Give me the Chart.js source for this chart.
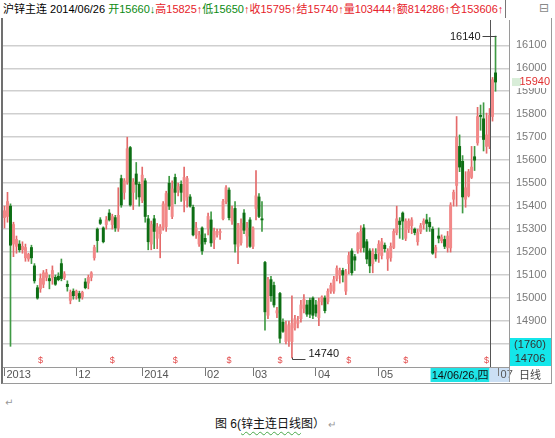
<!DOCTYPE html>
<html lang="zh-CN">
<head>
<meta charset="UTF-8">
<title>沪锌主连 日线</title>
<script src="https://cdn.jsdelivr.net/npm/chart.js"></script>
<style>
  body { margin: 0; background: #fff; width: 555px; height: 438px; overflow: hidden; position: relative;
         font-family: "Liberation Sans", "Noto Sans CJK SC", sans-serif; }
  #head { position: absolute; left: 3px; top: 2px; font-size: 11px; line-height: 14px; white-space: nowrap; color: #000; }
  #head .g { color: #0b8a12; }
  #head .r { color: #e6222a; }
  #headSep { position: absolute; left: 505px; top: 0; width: 1px; height: 18px; background: #777; }
  #headIcon { position: absolute; left: 539px; top: 1px; font-size: 12px; color: #888; font-family: "DejaVu Sans", sans-serif; }
  #frame { position: absolute; left: 1px; top: 18px; width: 551px; height: 366px; box-sizing: border-box;
           border-left: 2px solid #707070; border-right: 1px solid #9a9a9a; border-bottom: 1px solid #9a9a9a; }
  #wrap { position: absolute; left: 0; top: 18px; width: 552px; height: 366px; }
  .ret { position: absolute; font-size: 10px; color: #999; font-family: "DejaVu Sans", sans-serif; }
  #cap { position: absolute; left: 215px; top: 414px; font-size: 12px; color: #111; white-space: nowrap; }
  #cap .sp { text-decoration: underline wavy #4aa84a; text-decoration-thickness: 1px; text-underline-offset: 3px; }
</style>
</head>
<body>
<div id="head"><span>沪锌主连 2014/06/26 </span><span class="g">开15660↓</span><span class="r">高15825↑</span><span class="g">低15650</span><span class="r">↑收15795↑结15740↑量103444↑额814286↑仓153606↑</span></div>
<div id="headSep"></div>
<div id="headIcon">⊟</div>
<div id="frame"></div>
<div id="wrap"><canvas id="kline"></canvas></div>
<div class="ret" style="left:5px; top:397px;">↵</div>
<div id="cap">图 6(<span class="sp">锌主连日线</span>图）<span style="color:#999; font-size:10px;"> ↵</span></div>

<script>
  // trading days shown on the chart, by month
  const tradeDays = {
    '2013-10': [29, 30, 31],
    '2013-11': [1, 4, 5, 6, 7, 8, 11, 12, 13, 14, 15, 18, 19, 20, 21, 22, 25, 26, 27, 28, 29],
    '2013-12': [2, 3, 4, 5, 6, 9, 10, 11, 12, 13, 16, 17, 18, 19, 20, 23, 24, 25, 26, 27, 30, 31],
    '2014-01': [2, 3, 6, 7, 8, 9, 10, 13, 14, 15, 16, 17, 20, 21, 22, 23, 24, 27, 28, 29, 30],
    '2014-02': [7, 10, 11, 12, 13, 14, 17, 18, 19, 20, 21, 24, 25, 26, 27, 28],
    '2014-03': [3, 4, 5, 6, 7, 10, 11, 12, 13, 14, 17, 18, 19, 20, 21, 24, 25, 26, 27, 28, 31],
    '2014-04': [1, 2, 3, 4, 8, 9, 10, 11, 14, 15, 16, 17, 18, 21, 22, 23, 24, 25, 28, 29, 30],
    '2014-05': [5, 6, 7, 8, 9, 12, 13, 14, 15, 16, 19, 20, 21, 22, 23, 26, 27, 28, 29, 30],
    '2014-06': [3, 4, 5, 6, 9, 10, 11, 12, 13, 16, 17, 18, 19, 20, 23, 24, 25, 26, 27, 30]
  };
  const emptyDays = ['2014-07-01', '2014-07-02', '2014-07-03', '2014-07-04'];

  const opens = [
    15350, 15355, 15400, 15235, 15225, 15235, 15210, 15175, 15170, 15220,
    15140, 15045, 15040, 15060, 15090, 15085, 15090, 15090, 15095, 15150,
    15090, 15060, 14990, 15030, 15010, 15020, 15005, 15070, 15065, 15090,
    15175, 15300, 15340, 15305, 15320, 15370, 15320, 15350, 15305, 15520,
    15460, 15505, 15655, 15460, 15540, 15495, 15425, 15510, 15345, 15235,
    15345, 15260, 15280, 15305, 15310, 15500, 15355, 15525, 15470, 15495,
    15425, 15440, 15440, 15395, 15275, 15235, 15305, 15260, 15305, 15340,
    15255, 15275, 15285, 15345, 15420, 15470, 15335, 15390, 15225, 15240,
    15370, 15270, 15340, 15225, 15390, 15440, 15345, 15155, 14925, 15080,
    15055, 14935, 15020, 14895, 14810, 14815, 14810, 14870, 14890, 14910,
    14955, 14970, 14990, 15000, 14970, 14915, 14985, 15000, 14985, 15030,
    15030, 15085, 15100, 15120, 15030, 15150, 15205, 15180, 15205, 15215,
    15305, 15245, 15205, 15150, 15190, 15195, 15185, 15230, 15170, 15175,
    15220, 15285, 15335, 15370, 15260, 15300, 15315, 15300, 15245, 15290,
    15320, 15340, 15330, 15300, 15200, 15270, 15250, 15255, 15220, 15218,
    15430, 15490, 15660, 15595, 15430, 15445, 15525, 15615, 15675, 15795,
    15780, 15660, 15660, 15790, 15980
  ];
  const highs = [
    15400, 15460, 15410, 15330, 15270, 15250, 15245, 15235, 15195, 15230,
    15150, 15055, 15105, 15120, 15125, 15100, 15140, 15100, 15110, 15170,
    15115, 15075, 15035, 15040, 15035, 15030, 15030, 15085, 15100, 15115,
    15230, 15305, 15350, 15310, 15355, 15385, 15365, 15360, 15480, 15535,
    15520, 15700, 15660, 15520, 15590, 15505, 15570, 15520, 15360, 15335,
    15360, 15325, 15320, 15420, 15465, 15530, 15510, 15540, 15500, 15510,
    15570, 15530, 15450, 15405, 15330, 15290, 15310, 15280, 15370, 15375,
    15305, 15300, 15300, 15430, 15490, 15480, 15400, 15420, 15325, 15345,
    15385, 15330, 15350, 15310, 15555, 15455, 15420, 15160, 15090, 15095,
    15070, 14960, 15025, 14910, 14900, 14900, 15010, 14925, 14920, 14990,
    15015, 14990, 15000, 15005, 14990, 15000, 15010, 15010, 15040, 15065,
    15095, 15140, 15130, 15130, 15125, 15200, 15215, 15190, 15285, 15315,
    15320, 15255, 15215, 15215, 15215, 15250, 15260, 15240, 15215, 15240,
    15300, 15400, 15350, 15375, 15345, 15345, 15350, 15305, 15300, 15325,
    15345, 15365, 15350, 15310, 15230, 15305, 15275, 15270, 15290, 15415,
    15470, 15790, 15710, 15620, 15550, 15560, 15660, 15660, 15830, 15840,
    15850, 15805, 15825, 15960, 16140
  ];
  const lows = [
    15305, 15330, 14790, 15180, 15195, 15200, 15195, 15160, 15160, 15150,
    15065, 14995, 15025, 15045, 15075, 15040, 15060, 15055, 15075, 15075,
    15080, 15030, 14975, 14995, 14995, 14985, 14995, 15040, 15040, 15075,
    15165, 15200, 15320, 15240, 15300, 15335, 15300, 15290, 15290, 15395,
    15430, 15495, 15400, 15385, 15430, 15400, 15415, 15330, 15210, 15210,
    15215, 15215, 15175, 15295, 15290, 15385, 15345, 15410, 15445, 15420,
    15375, 15395, 15395, 15270, 15260, 15225, 15190, 15235, 15275, 15225,
    15215, 15265, 15255, 15340, 15410, 15340, 15320, 15200, 15150, 15230,
    15280, 15220, 15220, 15215, 15340, 15350, 15290, 14860, 14910, 14985,
    14960, 14915, 14805, 14850, 14800, 14790, 14740, 14860, 14870, 14895,
    14935, 14920, 14915, 14910, 14920, 14880, 14970, 14935, 14975, 15020,
    15020, 15075, 15065, 15070, 15015, 15105, 15100, 15120, 15195, 15200,
    15200, 15150, 15110, 15110, 15160, 15155, 15170, 15200, 15120, 15160,
    15215, 15275, 15260, 15255, 15250, 15285, 15280, 15275, 15230, 15280,
    15300, 15290, 15290, 15190, 15175, 15240, 15240, 15215, 15200, 15200,
    15400, 15400, 15550, 15370, 15395, 15440, 15520, 15555, 15665, 15730,
    15640, 15630, 15650, 15770, 15900
  ];
  const closes = [
    15380, 15420, 15230, 15320, 15255, 15210, 15225, 15220, 15190, 15175,
    15075, 15000, 15085, 15110, 15110, 15075, 15120, 15060, 15080, 15085,
    15105, 15050, 15025, 15010, 15030, 15000, 15025, 15045, 15090, 15110,
    15220, 15250, 15325, 15245, 15340, 15340, 15355, 15305, 15360, 15405,
    15510, 15650, 15405, 15505, 15495, 15440, 15535, 15355, 15245, 15320,
    15290, 15310, 15310, 15410, 15455, 15400, 15475, 15460, 15485, 15460,
    15525, 15520, 15400, 15275, 15305, 15275, 15205, 15245, 15355, 15240,
    15290, 15290, 15290, 15420, 15480, 15350, 15385, 15235, 15315, 15325,
    15295, 15305, 15225, 15305, 15445, 15355, 15340, 14940, 15080, 15010,
    14970, 14945, 14825, 14855, 14885, 14880, 14890, 14910, 14900, 14970,
    14995, 14930, 14930, 14925, 14935, 14985, 15005, 14945, 15030, 15055,
    15080, 15130, 15120, 15100, 15115, 15185, 15110, 15165, 15280, 15290,
    15220, 15170, 15140, 15200, 15170, 15235, 15245, 15215, 15205, 15225,
    15290, 15345, 15320, 15335, 15335, 15335, 15340, 15285, 15285, 15315,
    15335, 15325, 15310, 15195, 15220, 15260, 15265, 15225, 15270, 15405,
    15460, 15700, 15570, 15440, 15480, 15550, 15570, 15600, 15790, 15790,
    15690, 15710, 15795, 15950, 15940
  ];

  const xTickDates = ['2013-10-29', '2013-12-02', '2014-01-02', '2014-02-07', '2014-03-03', '2014-04-01', '2014-05-05', '2014-07-01'];
  const xTickText = ['2013', '12', '2014', '02', '03', '04', '05', '07'];
  const yTicks = [14800, 14900, 15000, 15100, 15200, 15300, 15400, 15500, 15600, 15700, 15800, 15900, 16000, 16100];
  const markDays = [12, 36, 57, 75, 92, 115, 134, 161];
  const cursorDate = '2014-06-26';
  const cursorText = '14/06/26,四';
  const sideBox = ['(1760)', '14706'];

  const dates = [];
  Object.keys(tradeDays).forEach(m => {
    tradeDays[m].forEach(d => dates.push(m + '-' + String(d).padStart(2, '0')));
  });
  emptyDays.forEach(d => dates.push(d));

  const isUp = closes.map((c, i) => c >= opens[i]);
  const numFont = '"Liberation Sans", "Noto Sans CJK SC", sans-serif';

  const overlay = {
    id: 'overlay',
    beforeDraw(chart) {
      const { ctx, chartArea: a, scales: { x } } = chart;
      const xc = x.getPixelForValue(dates.indexOf(cursorDate));
      ctx.save();
      ctx.fillStyle = '#1fe3e6';
      ctx.fillRect(xc - 59, a.bottom + 1, 59, x.bottom - a.bottom - 1);
      ctx.fillStyle = '#cbdff4';
      ctx.fillRect(xc, a.bottom + 1, a.right - xc, x.bottom - a.bottom - 1);
      ctx.restore();
    },
    afterDatasetsDraw(chart) {
      const { ctx, chartArea: a, scales: { x } } = chart;
      ctx.save();
      ctx.fillStyle = '#e24a4a';
      ctx.font = '9px ' + numFont;
      ctx.textAlign = 'center';
      ctx.textBaseline = 'middle';
      markDays.forEach(i => ctx.fillText('$', x.getPixelForValue(i), a.bottom - 6));
      ctx.restore();
    },
    afterDraw(chart) {
      const { ctx, chartArea: a, scales: { x, y } } = chart;
      const xc = Math.round(x.getPixelForValue(dates.indexOf(cursorDate))) + 0.5;
      ctx.save();
      ctx.lineWidth = 1;

      // cursor line
      ctx.strokeStyle = '#555';
      ctx.beginPath(); ctx.moveTo(xc, a.top); ctx.lineTo(xc, a.bottom); ctx.stroke();

      // date in the bottom band
      ctx.fillStyle = '#111';
      ctx.font = '11px ' + numFont;
      ctx.textBaseline = 'middle';
      ctx.textAlign = 'right';
      ctx.fillText(cursorText, xc - 2, (a.bottom + x.bottom) / 2 + 1);

      // right cell of the band
      ctx.strokeStyle = '#9a9a9a';
      ctx.beginPath(); ctx.moveTo(Math.round(a.right) + 0.5, a.bottom); ctx.lineTo(Math.round(a.right) + 0.5, x.bottom); ctx.stroke();
      ctx.fillStyle = '#444';
      ctx.textAlign = 'center';
      ctx.fillText('日线', a.right + 21, (a.bottom + x.bottom) / 2 + 1);

      // highest point
      const hi = Math.max(...highs);
      const hx = Math.round(x.getPixelForValue(highs.indexOf(hi))) + 0.5;
      const hy = Math.round(y.getPixelForValue(hi)) + 0.5;
      ctx.strokeStyle = '#444';
      ctx.beginPath(); ctx.moveTo(hx - 14, hy); ctx.lineTo(hx, hy); ctx.stroke();
      ctx.fillStyle = '#222';
      ctx.textAlign = 'right';
      ctx.fillText(String(hi), hx - 16, hy);

      // lowest point
      const lo = Math.min(...lows);
      const lx = Math.round(x.getPixelForValue(lows.indexOf(lo))) + 0.5;
      const ly = Math.round(y.getPixelForValue(lo)) + 0.5;
      ctx.beginPath(); ctx.moveTo(lx, ly - 1); ctx.lineTo(lx, ly + 1); ctx.lineTo(lx + 13, ly + 1); ctx.stroke();
      ctx.textAlign = 'left';
      ctx.fillText(String(lo), lx + 16, ly - 5);

      // last price on the axis
      const last = closes[closes.length - 1];
      const py = y.getPixelForValue(last);
      ctx.fillStyle = '#fff';
      ctx.fillRect(a.right + 2, py - 6, 39, 12);
      ctx.fillStyle = 'rgba(200,230,200,0.7)';
      ctx.fillRect(a.right + 3, py - 4, 9, 8);
      ctx.fillStyle = '#e03030';
      ctx.textAlign = 'right';
      ctx.fillText(String(last), a.right + 41, py);

      // cyan box at the foot of the axis
      ctx.fillStyle = '#14e6ea';
      ctx.fillRect(a.right + 1, a.bottom - 29, 41, 28);
      ctx.fillStyle = '#333';
      ctx.textAlign = 'center';
      ctx.fillText(sideBox[0], a.right + 21, a.bottom - 22);
      ctx.fillText(sideBox[1], a.right + 21, a.bottom - 8);
      ctx.restore();
    }
  };

  new Chart(document.getElementById('kline'), {
    type: 'bar',
    data: {
      labels: dates,
      datasets: [
        {
          label: 'body',
          data: opens.map((o, i) => [o, closes[i]]),
          backgroundColor: isUp.map(u => u ? '#f28888' : '#0d6e14'),
          barThickness: 2.3,
          minBarLength: 1,
          grouped: false,
          borderWidth: 0
        },
        {
          label: 'wick',
          data: lows.map((l, i) => [l, highs[i]]),
          backgroundColor: isUp.map(u => u ? '#e46a6a' : '#3f9a44'),
          barThickness: 1,
          grouped: false,
          borderWidth: 0
        }
      ]
    },
    options: {
      responsive: true,
      maintainAspectRatio: false,
      animation: false,
      devicePixelRatio: 1,
      layout: { padding: { left: 3, top: 2, right: 2, bottom: 2 }, autoPadding: false },
      plugins: { legend: { display: false }, tooltip: { enabled: false } },
      scales: {
        x: {
          type: 'category',
          offset: true,
          afterBuildTicks: s => { s.ticks = xTickDates.map(d => ({ value: dates.indexOf(d) })); },
          afterFit: s => { s.height = 15; s.paddingLeft = 0; s.paddingRight = 0; },
          grid: { offset: false, drawOnChartArea: false, tickLength: 9, color: '#777' },
          border: { display: true, color: '#9a9a9a' },
          ticks: {
            autoSkip: false, maxRotation: 0, minRotation: 0, align: 'start', labelOffset: 2, padding: -8,
            color: '#555', font: { size: 11, family: numFont },
            callback: (v, i) => xTickText[i]
          }
        },
        y: {
          position: 'right',
          min: 14700,
          max: 16210,
          afterBuildTicks: s => { s.ticks = yTicks.map(v => ({ value: v })); },
          afterFit: s => { s.width = 41; s.paddingTop = 0; s.paddingBottom = 0; },
          grid: { color: '#cfcfcf', lineWidth: 1.5, drawTicks: false },
          border: { display: true, color: '#9a9a9a' },
          ticks: { color: '#7a7a7a', font: { size: 11, family: numFont }, padding: 7, callback: v => String(v) }
        }
      }
    },
    plugins: [overlay]
  });
</script>
</body>
</html>
